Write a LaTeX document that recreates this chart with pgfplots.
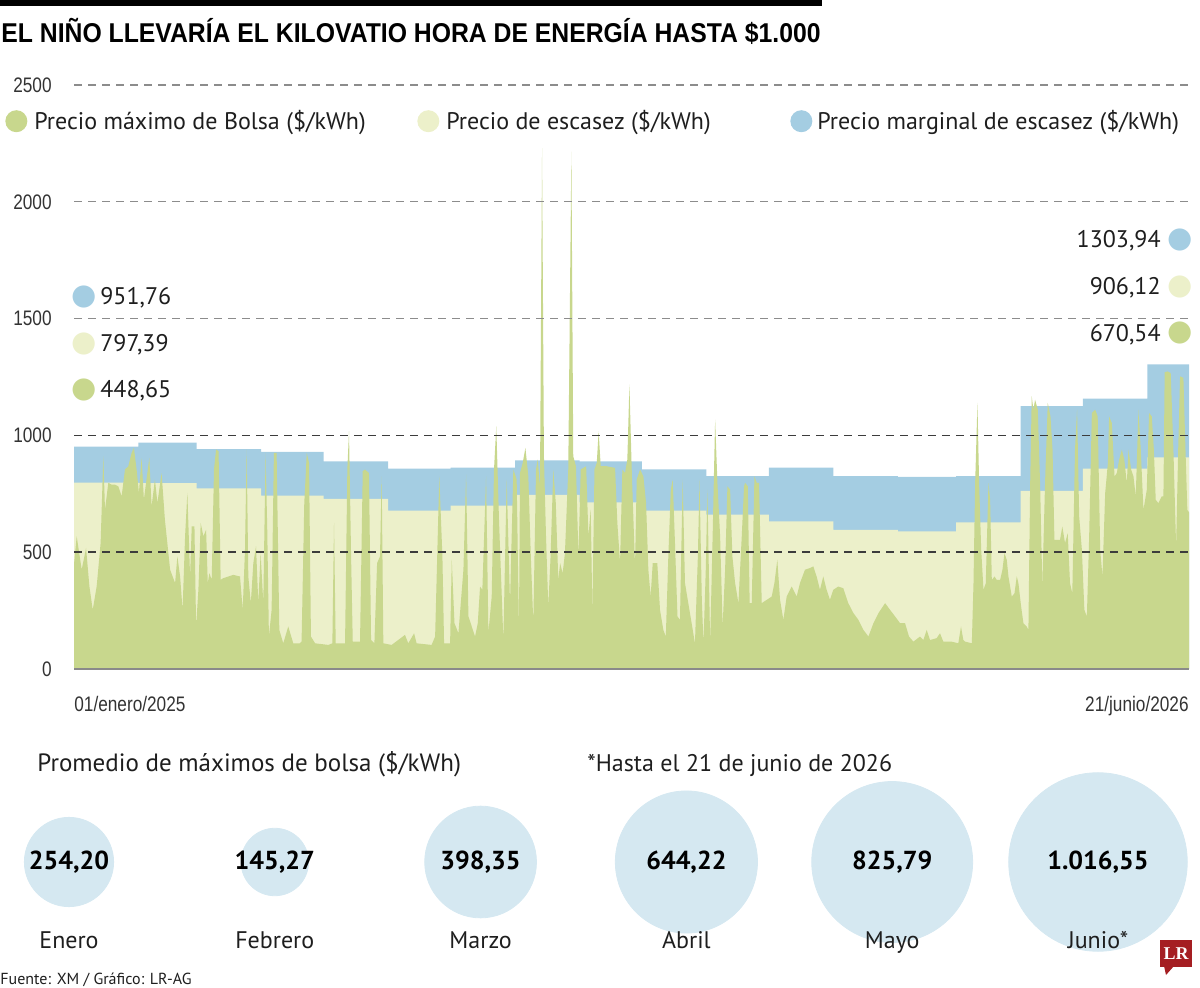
\documentclass[border=0pt]{standalone}
\usepackage{pgfplots}
\usepackage{pgfplotstable}
\pgfplotsset{compat=1.18}
\usepackage{fontspec}
\setmainfont{PT Sans}
\newfontfamily\narrow[FakeStretch=0.82]{Liberation Sans}
\newfontfamily\titlefont[FakeStretch=0.91]{Liberation Sans}
\newfontfamily\symb{DejaVu Sans}
\newfontfamily\logofont{Liberation Serif}

\definecolor{blueC}{HTML}{A4CDE2}
\definecolor{yellowC}{HTML}{ECF0CA}
\definecolor{greenC}{HTML}{C8D78D}
\definecolor{bubbleC}{HTML}{D5E8F1}
\definecolor{gridLight}{HTML}{8C8C8C}
\definecolor{gridDark}{HTML}{3C3C3C}
\definecolor{axisC}{HTML}{8A8A8A}
\definecolor{tickC}{HTML}{333333}
\definecolor{txtC}{HTML}{1E1E1E}
\definecolor{lrRed}{HTML}{A51E22}

% Monthly scarcity prices (day 0 = 1 Jan 2025)
\pgfplotstableread{
day marginal escasez
0 951.76 797.39
31 969 796
59 941 773
90 929 742
120 889 728
151 858 678
181 862 699
212 893 745
243 889 713
273 855 678
304 826 661
334 862 632
365 826 596
396 822 589
424 826 628
455 1125 763
485 1157 858
516 1303.94 906.12
536 1303.94 906.12
}\escasez

% Daily maximum spot price
\pgfplotstableread{
day price
0 448.65
1.3 568
3.7 425
5.8 518
7.4 354
9.0 253
10.9 354
12.8 539
14.1 911
14.9 682
16.5 797
18.1 789
19.7 789
21.3 782
22.9 739
24.5 854
26.1 868
27.7 925
28.8 947
30.1 854
31.2 754
32.5 904
33.6 725
36.2 904
37.3 696
38.9 811
40.1 711
42.1 839
43.7 639
46.2 425
48.6 368
49.7 482
51.0 396
52.2 253
53.4 568
54.5 754
55.8 396
56.6 611
57.9 611
58.7 182
59.8 339
60.9 625
62.2 568
63.5 596
64.3 368
65.1 410
66.2 382
67.3 854
68.3 940
69.5 932
70.5 382
71.8 389
76.6 403
79.8 396
81.1 253
82.2 511
83.0 940
83.8 396
85.0 282
86.2 453
87.5 525
88.6 282
89.7 496
91.0 282
92.1 925
92.9 596
93.7 139
95.0 253
96.1 925
97.4 925
98.7 167
100.6 110
103.0 182
105.4 110
108.6 110
109.4 117
110.7 711
111.9 925
113.0 882
113.9 139
115.9 110
122.3 103
124.2 110
125.0 625
125.8 110
130.3 110
131.4 854
132.2 1018
133.2 482
134.0 117
137.5 117
138.8 847
139.9 854
141.8 839
142.8 124
144.4 110
145.7 453
147.1 482
147.9 825
148.7 110
152.7 103
159.1 146
160.7 110
163.5 153
164.7 110
171.9 103
173.6 139
175.6 825
177.1 482
177.9 110
180.8 110
181.6 468
182.9 196
184.8 153
187.2 425
188.5 832
189.6 225
192.8 139
194.1 196
195.2 353
196.3 339
198.1 825
199.2 153
200.8 310
201.9 854
203.0 1040
204.3 639
206.4 124
208.0 811
209.6 282
211.2 854
212.8 811
213.9 167
214.4 839
215.7 882
217.0 947
218.4 825
219.6 482
220.8 196
222.1 854
222.9 897
224.0 782
225.0 2230
225.9 911
226.9 568
228.0 267
229.1 482
230.4 854
231.6 711
232.8 382
233.7 453
234.9 410
236.0 496
237.6 854
239.1 2215
240.0 911
241.3 868
242.5 482
243.6 854
246.2 868
247.3 568
248.4 682
249.2 239
250.2 854
251.3 882
252.2 1018
253.2 868
256.1 868
260.1 861
261.2 625
262.5 453
263.6 854
264.9 839
266.0 897
267.0 1218
268.1 854
269.7 439
270.5 811
272.1 854
273.7 825
275.0 711
276.1 425
277.2 310
278.2 453
280.4 453
281.7 253
283.3 167
284.5 139
285.7 482
286.9 768
287.8 811
288.9 539
290.1 225
291.3 210
292.6 811
293.7 368
295.3 282
296.9 196
298.5 110
299.9 482
300.7 811
301.8 296
302.6 110
303.7 425
304.5 768
305.8 110
307.0 568
308.2 1068
309.3 797
310.6 568
311.8 182
313.0 425
314.1 782
315.4 768
316.5 482
317.8 368
319.4 282
321.0 568
322.1 782
322.6 797
323.9 782
324.8 282
325.8 282
327.1 825
328.2 797
329.3 797
330.6 282
335.4 310
336.7 368
338.1 468
339.4 296
341.0 210
342.6 310
345.0 353
347.4 310
349.0 368
351.4 425
353.8 432
355.4 439
357.0 396
358.6 339
360.2 396
361.8 339
363.4 296
365.0 339
367.4 353
369.8 346
372.2 282
374.7 239
377.1 210
379.5 167
381.9 139
384.3 196
386.7 239
389.9 282
392.3 253
394.7 225
397.1 196
399.5 196
401.4 139
403.5 117
406.7 139
408.3 124
409.9 167
411.5 124
414.7 132
416.3 153
417.9 117
421.9 117
425.1 110
426.4 182
427.5 124
428.4 117
431.6 110
432.4 367
433.2 796
434.3 1139
435.1 796
436.1 510
437.2 339
438.3 367
439.6 796
440.4 724
441.2 381
442.5 396
443.6 381
445.2 381
446.3 424
447.3 496
448.4 467
449.2 396
450.8 310
452.1 324
453.2 396
454.0 367
455.3 267
456.4 196
458.0 181
458.8 167
459.6 767
460.4 1167
461.2 1110
462.0 1153
463.3 1110
464.4 796
465.5 353
466.8 796
468.1 1139
469.4 1081
470.4 939
471.3 553
474.0 553
475.1 610
476.4 539
477.7 581
478.8 367
479.9 324
481.2 939
482.2 1110
483.2 653
484.5 510
485.7 253
486.9 224
488.0 567
489.3 1096
490.9 1110
492.1 1081
493.3 510
494.4 396
495.7 753
497.0 881
497.6 1081
498.9 1053
500.2 824
501.3 839
502.4 896
503.7 939
504.9 896
506.1 796
506.9 939
508.2 853
509.3 824
510.4 739
511.7 1110
512.8 939
514.1 681
515.7 767
516.8 1096
518.1 1081
519.1 939
520.0 724
521.3 710
522.9 739
523.7 739
524.3 1270
525.6 1274
527.2 1267
528.5 939
529.8 524
530.8 939
531.7 1253
533.3 1246
534.3 939
535.2 681
536 670.54
}\bolsa

% Monthly averages of the daily maximum
\pgfplotstableread{
pos v mes
0 254.20 Enero
1 145.27 Febrero
2 398.35 Marzo
3 644.22 Abril
4 825.79 Mayo
5 1016.55 Junio*
}\promedios

\begin{document}
\begin{tikzpicture}[x=1pt,y=1pt]
\useasboundingbox (0pt,0pt) rectangle (600pt,-494pt);

% header
\fill[black] (0pt,0pt) rectangle (411pt,-3pt);
\node[anchor=base west, inner sep=0pt, text=black] at (0.5pt,-21.5pt)
  {\titlefont\bfseries\fontsize{13.6}{16}\selectfont EL NIÑO LLEVARÍA EL KILOVATIO HORA DE ENERGÍA HASTA \$1.000};

% ---------------- main area chart ----------------
\begin{axis}[
  at={(37pt,-334.5pt)}, anchor=south west,
  width=557.5pt, height=292pt, scale only axis,
  xmin=0, xmax=536, ymin=0, ymax=2500,
  axis x line=bottom, axis y line=left,
  x axis line style={-, draw=axisC, line width=1pt},
  y axis line style={draw=none},
  major tick length=0pt,
  axis on top,
  ytick={0,1500,2000,2500},
  extra y ticks={500,1000},
  ymajorgrids,
  grid style={draw=gridLight, line width=0.7pt, dash pattern=on 4pt off 3pt},
  extra y tick style={grid style={draw=gridDark, line width=0.7pt, dash pattern=on 4pt off 3pt}},
  /pgf/number format/assume math mode=true,
  /pgf/number format/1000 sep={},
  tick label style={font=\narrow\fontsize{10.5}{12}\selectfont, text=tickC},
  yticklabel style={inner sep=0pt, xshift=-11pt},
  xtick={0}, xticklabels={01/enero/2025},
  xticklabel style={anchor=base west, inner sep=0pt, yshift=-21pt},
  extra x ticks={536}, extra x tick labels={21/junio/2026},
  extra x tick style={xticklabel style={anchor=base east}},
  legend columns=3,
  legend cell align=left,
  legend image code/.code={\fill[#1] (0pt,0pt) circle (5.5pt);},
  legend style={at={(-0.0673,0.938)}, anchor=west, draw=none, fill=none,
    font=\fontsize{12}{14}\selectfont, text=txtC},
]
\addlegendimage{fill=greenC, draw=none}
\addlegendentry{\makebox[191pt][l]{\hspace{1.5pt}Precio máximo de Bolsa (\$/kWh)}}
\addlegendimage{fill=yellowC, draw=none}
\addlegendentry{\makebox[171.5pt][l]{\hspace{1.5pt}Precio de escasez (\$/kWh)}}
\addlegendimage{fill=blueC, draw=none}
\addlegendentry{\hspace{0.5pt}Precio marginal de escasez (\$/kWh)}

\addplot[const plot, fill=blueC, draw=none, forget plot]
  table[x=day, y=marginal] {\escasez} \closedcycle;
\addplot[const plot, fill=yellowC, draw=none, forget plot]
  table[x=day, y=escasez] {\escasez} \closedcycle;
\addplot[fill=greenC, draw=none, forget plot]
  table[x=day, y=price] {\bolsa} \closedcycle;
\end{axis}

% first and last values
\begin{scope}[every node/.style={inner sep=0pt, text=txtC, font=\fontsize{12}{14}\selectfont}]
\node[text=blueC]   at (42pt,-148.5pt) {\symb\fontsize{14.5}{15}\selectfont ●};
\node[text=yellowC] at (42pt,-172pt)   {\symb\fontsize{14.5}{15}\selectfont ●};
\node[text=greenC]  at (42pt,-195pt)   {\symb\fontsize{14.5}{15}\selectfont ●};
\node[anchor=base west] at (50pt,-152.5pt) {951,76};
\node[anchor=base west] at (50pt,-176pt)   {797,39};
\node[anchor=base west] at (50pt,-199pt)   {448,65};
\node[text=blueC]   at (590pt,-120pt)   {\symb\fontsize{14.5}{15}\selectfont ●};
\node[text=yellowC] at (590pt,-143.5pt) {\symb\fontsize{14.5}{15}\selectfont ●};
\node[text=greenC]  at (590pt,-166.5pt) {\symb\fontsize{14.5}{15}\selectfont ●};
\node[anchor=base east] at (580.5pt,-124pt)   {1303,94};
\node[anchor=base east] at (580.5pt,-147.5pt) {906,12};
\node[anchor=base east] at (580.5pt,-171pt)   {670,54};
\end{scope}

% ---------------- monthly averages ----------------
\node[anchor=base west, inner sep=0pt, text=txtC] at (18.5pt,-385.5pt)
  {\fontsize{12.5}{14}\selectfont Promedio de máximos de bolsa (\$/kWh)};
\node[anchor=base west, inner sep=0pt, text=txtC] at (293.5pt,-385.5pt)
  {\fontsize{12}{14}\selectfont *Hasta el 21 de junio de 2026};

\begin{axis}[
  at={(34.5pt,-462.5pt)}, anchor=south west,
  width=514.5pt, height=63pt, scale only axis,
  xmin=0, xmax=5, ymin=-1, ymax=1,
  clip=false,
  axis line style={draw=none},
  major tick length=0pt,
  ytick=\empty,
  xtick=\empty,
  /pgf/number format/assume math mode=true,
]
% bubble area follows the monthly average
\addplot[scatter, only marks, mark=*,
  scatter/use mapped color={draw=bubbleC, fill=bubbleC},
  visualization depends on={1.4*sqrt(\thisrow{v}) \as \rad},
  scatter/@pre marker code/.append style={/tikz/mark size=\rad pt},
  point meta=\thisrow{v},
] table[x=pos, y expr=0] {\promedios};
% value printed in each bubble
\addplot[only marks, mark=none,
  point meta=\thisrow{v},
  nodes near coords={\pgfmathprintnumber[fixed, fixed zerofill, precision=2, use comma]{\pgfplotspointmeta}},
  nodes near coords align=center,
  every node near coord/.append style={font=\bfseries\fontsize{13}{15}\selectfont, text=black, inner sep=0pt},
] table[x=pos, y expr=0] {\promedios};
% month name under each bubble
\addplot[only marks, mark=none,
  point meta=explicit symbolic,
  nodes near coords,
  nodes near coords align=center,
  every node near coord/.append style={font=\fontsize{12}{14}\selectfont, text=txtC,
    inner sep=0pt, text height=9pt, text depth=3pt, yshift=-40pt},
] table[x=pos, y expr=0, meta=mes] {\promedios};
\end{axis}

% footer
\node[anchor=base west, inner sep=0pt, text=txtC] at (0pt,-492pt)
  {\fontsize{8}{10}\selectfont Fuente: XM / Gráfico: LR-AG};
\fill[lrRed] (580pt,-470pt) rectangle (596pt,-483.5pt);
\fill[lrRed] (582pt,-483pt) -- (587pt,-483pt) -- (583pt,-487.5pt) -- cycle;
\node[text=white, inner sep=0pt] at (588pt,-477pt)
  {\logofont\bfseries\fontsize{9}{9}\selectfont LR};
\end{tikzpicture}
\end{document}
